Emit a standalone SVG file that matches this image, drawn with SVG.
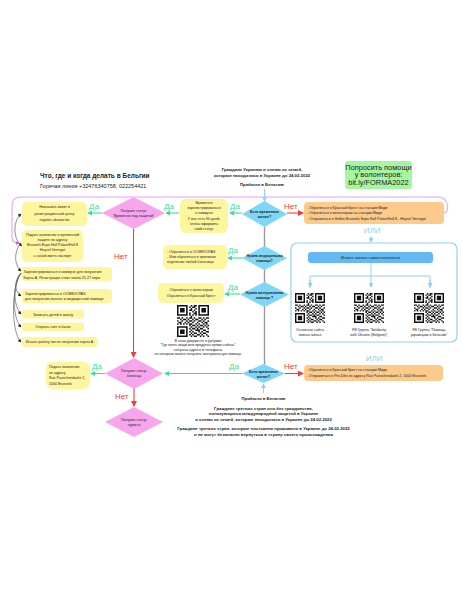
<svg xmlns="http://www.w3.org/2000/svg" xmlns:xlink="http://www.w3.org/1999/xlink" width="463" height="599" viewBox="0 0 463 599">
<style>
text{font-family:"Liberation Sans",Arial,sans-serif;fill:#222}
.t{font-size:3.6px}
.tb{font-size:3.6px;font-weight:bold}
.h{font-size:4.3px;font-weight:bold}
.yes{font-size:8px;fill:#3ddc97}
.no{font-size:8px;fill:#f03c3c}
.or{font-size:8px;fill:#8fd0f5}
.yb{fill:#fef69e}
.pd{fill:#f7a6ee}
.bd{fill:#7fd6f6}
.ob{fill:#fcca8a}
.g{fill:none;stroke:#3ddc97;stroke-width:1.1}
.r{fill:none;stroke:#f03c3c;stroke-width:1.1}
.lb{fill:none;stroke:#8fd0f5;stroke-width:1}
.gr{fill:none;stroke:#666;stroke-width:0.7}
</style>
<defs>
<marker id="ag" viewBox="0 0 6 6" refX="5" refY="3" markerWidth="5" markerHeight="5" markerUnits="userSpaceOnUse" orient="auto"><path d="M0 0L6 3L0 6z" fill="#3ddc97"/></marker>
<marker id="ar" viewBox="0 0 6 6" refX="5" refY="3" markerWidth="6" markerHeight="6" markerUnits="userSpaceOnUse" orient="auto"><path d="M0 0L6 3L0 6z" fill="#f03c3c"/></marker>
<marker id="ab" viewBox="0 0 6 6" refX="5" refY="3" markerWidth="5" markerHeight="5" markerUnits="userSpaceOnUse" orient="auto"><path d="M0 0L6 3L0 6z" fill="#8fd0f5"/></marker>
<marker id="ak" viewBox="0 0 6 6" refX="5" refY="3" markerWidth="3.5" markerHeight="3.5" markerUnits="userSpaceOnUse" orient="auto"><path d="M0 0L6 3L0 6z" fill="#222"/></marker>
<marker id="ap" viewBox="0 0 6 6" refX="5" refY="3" markerWidth="4" markerHeight="4" markerUnits="userSpaceOnUse" orient="auto"><path d="M0 0L6 3L0 6z" fill="#d84ee8"/></marker>
<symbol id="qr" viewBox="0 0 21 21">
<path fill="#111" fill-rule="evenodd" d="M0 0h7v7h-7zM1 1h5v5h-5zM2 2h3v3h-3zM14 0h7v7h-7zM15 1h5v5h-5zM16 2h3v3h-3zM0 14h7v7h-7zM1 15h5v5h-5zM2 16h3v3h-3z"/>
<path fill="#111" d="M9 0h1v1h-1zM11 0h2v1h-2zM8 1h1v1h-1zM10 1h2v1h-2zM9 2h1v1h-1zM12 2h1v1h-1zM8 3h2v1h-2zM11 3h1v1h-1zM10 4h1v1h-1zM12 4h1v1h-1zM8 5h1v1h-1zM11 5h2v1h-2zM8 6h1v1h-1zM10 6h1v1h-1zM12 6h1v1h-1zM9 7h1v1h-1zM0 8h2v1h-2zM3 8h1v1h-1zM6 8h1v1h-1zM8 8h2v1h-2zM11 8h1v1h-1zM14 8h2v1h-2zM17 8h1v1h-1zM19 8h2v1h-2zM2 9h1v1h-1zM4 9h2v1h-2zM7 9h1v1h-1zM10 9h1v1h-1zM12 9h2v1h-2zM16 9h1v1h-1zM18 9h1v1h-1zM0 10h1v1h-1zM3 10h1v1h-1zM6 10h1v1h-1zM8 10h2v1h-2zM11 10h1v1h-1zM14 10h2v1h-2zM17 10h1v1h-1zM20 10h1v1h-1zM1 11h2v1h-2zM5 11h1v1h-1zM7 11h1v1h-1zM10 11h1v1h-1zM13 11h1v1h-1zM16 11h1v1h-1zM18 11h2v1h-2zM0 12h1v1h-1zM2 12h1v1h-1zM4 12h1v1h-1zM6 12h1v1h-1zM8 12h2v1h-2zM12 12h1v1h-1zM14 12h1v1h-1zM17 12h1v1h-1zM19 12h1v1h-1zM8 13h1v1h-1zM10 13h2v1h-2zM13 13h1v1h-1zM15 13h2v1h-2zM18 13h1v1h-1zM20 13h1v1h-1zM9 14h1v1h-1zM12 14h1v1h-1zM14 14h1v1h-1zM17 14h1v1h-1zM19 14h1v1h-1zM8 15h1v1h-1zM10 15h2v1h-2zM13 15h1v1h-1zM15 15h2v1h-2zM20 15h1v1h-1zM9 16h1v1h-1zM12 16h3v1h-3zM17 16h2v1h-2zM8 17h1v1h-1zM10 17h1v1h-1zM14 17h1v1h-1zM16 17h1v1h-1zM19 17h2v1h-2zM9 18h1v1h-1zM11 18h2v1h-2zM15 18h1v1h-1zM17 18h2v1h-2zM8 19h1v1h-1zM10 19h1v1h-1zM13 19h2v1h-2zM16 19h1v1h-1zM19 19h1v1h-1zM9 20h1v1h-1zM11 20h2v1h-2zM15 20h1v1h-1zM17 20h1v1h-1zM20 20h1v1h-1z"/>
</symbol>
</defs>
<rect width="463" height="599" fill="#fff"/>

<g id="title">
<text x="40" y="178" style="font-size:6.5px;font-weight:bold">Что, где и когда делать в Бельгии</text>
<text x="40" y="188" style="font-size:5.5px">Горячая линия +32476340758, 022254421</text>
</g>

<g id="head-top">
<text class="h" x="262" y="171" text-anchor="middle">Граждане Украины и члены их семей,</text>
<text class="h" x="262" y="177" text-anchor="middle">которые находились в Украине до 24.02.2022</text>
<text class="h" x="262" y="186" text-anchor="middle">Прибыли в Бельгию</text>
</g>

<g id="volunteers">
<rect x="345" y="161" width="67" height="28" rx="3" fill="#a6f5a0"/>
<text x="378.5" y="169.5" text-anchor="middle" style="font-size:7.4px">Попросить помощи</text>
<text x="378.5" y="177" text-anchor="middle" style="font-size:7.4px">у волонтеров:</text>
<text x="378.5" y="184.5" text-anchor="middle" style="font-size:7.4px">bit.ly/FORMA2022</text>
</g>

<g id="connectors">
<path d="M444 213 C450 213 449 197 438 197 L22 197 C13 197 12 200 12 210 L12 236 C12 242 14 243 19 243" fill="none" stroke="#e8a2f7" stroke-width="1.1" marker-end="url(#ap)"/>
<path class="gr" d="M20 244 C13 237 13 221 21 214" marker-end="url(#ak)"/>
<path class="gr" d="M19 243 L21.5 246" marker-end="url(#ak)"/>
<path class="gr" d="M20 244 C14 252 14 265 21 271" marker-end="url(#ak)"/>
<path class="gr" d="M21 273 C14 280 14 291 21 296" marker-end="url(#ak)"/>
<path class="gr" d="M21 273 C13 283 13 306 21 314" marker-end="url(#ak)"/>
<path class="gr" d="M21 273 C12 285 12 318 21 327" marker-end="url(#ak)"/>
<path class="gr" d="M21 273 C11 288 11 332 21 342" marker-end="url(#ak)"/>
<path class="lb" d="M264.5 189 L264.5 201" marker-end="url(#ab)"/>
<path class="g" d="M242 213 L230 213" marker-end="url(#ag)"/>
<path class="g" d="M179 213 L166 213" marker-end="url(#ag)"/>
<path class="g" d="M102 213 L88 213" marker-end="url(#ag)"/>
<path class="r" d="M287 213 L303 213" marker-end="url(#ar)"/>
<path class="r" d="M133.5 229 L133.5 357" marker-end="url(#ar)"/>
<path d="M264.5 227 L264.5 365" fill="none" stroke="#999" stroke-width="1.4"/>
<path class="g" d="M243 258 L228 258" marker-end="url(#ag)"/>
<path class="g" d="M240 294 L225 294" marker-end="url(#ag)"/>
<path class="lb" d="M371 236 L371 242" marker-end="url(#ab)"/>
<path class="lb" d="M371 263 L371 276 M310 288 L310 276 L430 276 L430 288"/>
<path class="lb" d="M310 280 L310 287" marker-end="url(#ab)"/>
<path class="lb" d="M371 276 L371 287" marker-end="url(#ab)"/>
<path class="lb" d="M430 280 L430 287" marker-end="url(#ab)"/>
<path class="lb" d="M263.5 393 L263.5 384" marker-end="url(#ab)"/>
<path class="g" d="M242 373.5 L165 373.5" marker-end="url(#ag)"/>
<path class="r" d="M285 373.5 L303 373.5" marker-end="url(#ar)"/>
<path class="g" d="M105 373.5 L91 373.5" marker-end="url(#ag)"/>
<path class="r" d="M134 388 L134 406" marker-end="url(#ar)"/>
</g>

<g id="labels">
<text class="yes" x="89" y="209">Да</text>
<text class="yes" x="164" y="209">Да</text>
<text class="yes" x="230" y="209">Да</text>
<text class="no" x="284" y="209">Нет</text>
<text class="no" x="114" y="259">Нет</text>
<text class="yes" x="228" y="253">Да</text>
<text class="yes" x="228" y="290">Да</text>
<text class="or" x="372" y="233" text-anchor="middle">ИЛИ</text>
<text class="or" x="374" y="361" text-anchor="middle">ИЛИ</text>
<text class="yes" x="229" y="369">Да</text>
<text class="no" x="284" y="369">Нет</text>
<text class="yes" x="92" y="369">Да</text>
<text class="no" x="115" y="399">Нет</text>
</g>

<g id="box-visit">
<rect class="yb" x="22" y="202" width="65" height="24" rx="5"/>
<text class="t" x="54.5" y="208" text-anchor="middle">Назначить визит в</text>
<text class="t" x="54.5" y="214.5" text-anchor="middle">регистрационный центр</text>
<text class="t" x="54.5" y="221" text-anchor="middle">register-ukraine.be</text>
</g>
<g id="box-apply">
<rect class="yb" x="22" y="230" width="61" height="32" rx="5"/>
<text class="t" x="52.5" y="235.5" text-anchor="middle">Подать заявление о временной</text>
<text class="t" x="52.5" y="240.5" text-anchor="middle">защите по адресу</text>
<text class="t" x="52.5" y="245.5" text-anchor="middle">Brussels Expo Hall Palais/Hall 8</text>
<text class="t" x="52.5" y="250.5" text-anchor="middle">Heysel Verregat</text>
<text class="t" x="52.5" y="257" text-anchor="middle">с собой иметь паспорт</text>
</g>
<g id="box-commune">
<rect class="yb" x="22" y="267" width="90" height="14" rx="3"/>
<text class="t" x="23.5" y="273">Зарегистрироваться в коммуне для получения</text>
<text class="t" x="23.5" y="278.5">Карты А. Регистрация стоит около 25-27 евро</text>
</g>
<g id="box-cpas">
<rect class="yb" x="22" y="289" width="90" height="14" rx="3"/>
<text class="t" x="25" y="294.5">Зарегистрироваться в ОСМЮ/CPAS</text>
<text class="t" x="25" y="300">для получения выплат и медицинской помощи</text>
</g>
<g id="box-school">
<rect class="yb" x="22" y="310" width="62" height="8.5" rx="2.5"/>
<text class="t" x="53" y="315.5" text-anchor="middle">Записать детей в школу</text>
</g>
<g id="box-bank">
<rect class="yb" x="22" y="322.5" width="62" height="8.5" rx="2.5"/>
<text class="t" x="53" y="328" text-anchor="middle">Открыть счет в банке</text>
</g>
<g id="box-work">
<rect class="yb" x="22" y="337" width="75" height="10" rx="2.5"/>
<text class="t" x="59.5" y="343.2" text-anchor="middle">Искать работу после получения карты А</text>
</g>

<g id="d-protect">
<path class="pd" d="M133.5 197 L165 213 L133.5 229 L102 213 Z"/>
<text class="t" x="133.5" y="211.5" text-anchor="middle">Получил статус</text>
<text class="t" x="133.5" y="216.5" text-anchor="middle">"Временно под защитой"</text>
</g>
<g id="box-temp">
<rect class="yb" x="180" y="199" width="48" height="34" rx="6"/>
<text class="t" x="204" y="204" text-anchor="middle">Временно</text>
<text class="t" x="204" y="208.8" text-anchor="middle">зарегистрироваться</text>
<text class="t" x="204" y="213.6" text-anchor="middle">в коммуне</text>
<text class="t" x="204" y="219.5" text-anchor="middle">У вас есть 90 дней,</text>
<text class="t" x="204" y="224.5" text-anchor="middle">чтобы оформить</text>
<text class="t" x="204" y="229.5" text-anchor="middle">свой статус</text>
</g>
<g id="d-housing1">
<path class="bd" d="M264.5 201 L287 214 L264.5 227 L242 214 Z"/>
<text class="tb" x="264.5" y="212.5" text-anchor="middle">Есть временное</text>
<text class="tb" x="264.5" y="217.5" text-anchor="middle">жилье?</text>
</g>
<g id="box-orange1">
<rect class="ob" x="304" y="202" width="140" height="22" rx="4"/>
<text class="t" x="307" y="208.5">- Обратиться в Красный Крест на станции Миди</text>
<text class="t" x="307" y="214.2">- Обратиться к волонтерам на станции Миди</text>
<text class="t" x="307" y="220">- Отправиться в Hallen Brussels Expo Hall Palais/Hall 8 - Heysel Verregat</text>
</g>

<g id="d-medical">
<path class="bd" d="M264.5 246 L287 258 L264.5 270 L242 258 Z"/>
<text class="tb" x="264.5" y="257" text-anchor="middle">Нужна медицинская</text>
<text class="tb" x="264.5" y="262" text-anchor="middle">помощь?</text>
</g>
<g id="box-medical">
<rect class="yb" x="163" y="245" width="64" height="24" rx="5"/>
<text class="t" x="167" y="252.5">- Обратиться в ОСМЮ/CPAS</text>
<text class="t" x="167" y="257.5">- Или обратиться в приемное</text>
<text class="t" x="167" y="262.5">отделение любой больницы</text>
</g>
<g id="d-material">
<path class="bd" d="M264.5 282 L289 294.5 L264.5 307 L240 294.5 Z"/>
<text class="tb" x="264.5" y="293.5" text-anchor="middle">Нужна материальная</text>
<text class="tb" x="264.5" y="298.5" text-anchor="middle">помощь ?</text>
</g>
<g id="box-material">
<rect class="yb" x="158" y="283" width="66" height="20" rx="5"/>
<text class="t" x="191" y="291" text-anchor="middle">Обратиться к волонтерам</text>
<text class="t" x="191" y="297" text-anchor="middle">Обратиться в Красный Крест</text>
</g>
<g id="qr-material">
<use xlink:href="#qr" href="#qr" x="177" y="305" width="32" height="32"/>
<text class="t" x="198" y="341.5" text-anchor="middle">В этом документе в рубрике</text>
<text class="t" x="198" y="346" text-anchor="middle">"Где взять вещи или продукты прямо сейчас"</text>
<text class="t" x="198" y="350.5" text-anchor="middle">собраны адреса и телефоны</text>
<text class="t" x="198" y="355" text-anchor="middle">по которым можно получить материальную помощь</text>
</g>

<g id="housing-search">
<rect x="291" y="243" width="166" height="99" rx="6" fill="none" stroke="#8fd0f5" stroke-width="1.2"/>
<rect x="308" y="252" width="125" height="11" rx="3" fill="#62b9f3"/>
<text x="370.5" y="259.3" text-anchor="middle" style="font-size:4.2px">Искать жилье самостоятельно</text>
<use xlink:href="#qr" href="#qr" x="295" y="293" width="30" height="30"/>
<use xlink:href="#qr" href="#qr" x="354" y="293" width="30" height="30"/>
<use xlink:href="#qr" href="#qr" x="414" y="293" width="30" height="30"/>
<text class="t" x="310" y="331" text-anchor="middle">Основные сайты</text>
<text class="t" x="310" y="335.5" text-anchor="middle">поиска жилья</text>
<text class="t" x="369" y="331" text-anchor="middle">FB Группа "Solidarity</text>
<text class="t" x="369" y="335.5" text-anchor="middle">with Ukraine (Belgium)"</text>
<text class="t" x="429" y="331" text-anchor="middle">FB Группа "Помощь</text>
<text class="t" x="429" y="335.5" text-anchor="middle">украинцам в Бельгии"</text>
</g>

<g id="d-housing2">
<path class="bd" d="M263.5 364 L285 373.5 L263.5 383 L242 373.5 Z"/>
<text class="tb" x="263.5" y="372.5" text-anchor="middle">Есть временное</text>
<text class="tb" x="263.5" y="377.5" text-anchor="middle">жилье?</text>
</g>
<g id="box-orange2">
<rect class="ob" x="304" y="365" width="139" height="16" rx="4"/>
<text class="t" x="306.5" y="371">- Обратиться в Красный Крест на станции Миди</text>
<text class="t" x="306.5" y="377">- Отправиться в Pro-Déo по адресу Rue Passchendaele 2, 1000 Brussels</text>
</g>
<g id="d-refugee">
<path class="pd" d="M134 358 L163 373.5 L134 389 L105 373.5 Z"/>
<text class="t" x="134" y="372" text-anchor="middle">Получил статус</text>
<text class="t" x="134" y="377" text-anchor="middle">беженца</text>
</g>
<g id="box-refugee">
<rect class="yb" x="46" y="362" width="44" height="27" rx="6"/>
<text class="t" x="49" y="368">Подать заявление</text>
<text class="t" x="49" y="373.5">по адресу</text>
<text class="t" x="49" y="379">Rue Passchendaele 2,</text>
<text class="t" x="49" y="384.5">1000 Brussels</text>
</g>
<g id="d-tourist">
<path class="pd" d="M134 407 L163 422 L134 437 L105 422 Z"/>
<text class="t" x="134" y="420.5" text-anchor="middle">Получил статус</text>
<text class="t" x="134" y="425.5" text-anchor="middle">туриста</text>
</g>

<g id="head-bottom">
<text class="h" x="263.5" y="399.5" text-anchor="middle">Прибыли в Бельгию</text>
<text class="h" x="263.5" y="410" text-anchor="middle">Граждане третьих стран или без гражданства,</text>
<text class="h" x="263.5" y="415.3" text-anchor="middle">пользующиеся международной защитой в Украине</text>
<text class="h" x="263.5" y="420.6" text-anchor="middle">и члены их семей, которые находились в Украине до 24.02.2022</text>
<text class="h" x="263.5" y="430" text-anchor="middle">Граждане третьих стран, которые постоянно проживали в Украине до 24.02.2022</text>
<text class="h" x="263.5" y="435.5" text-anchor="middle">и не могут безопасно вернуться в страну своего происхождения</text>
</g>
</svg>
